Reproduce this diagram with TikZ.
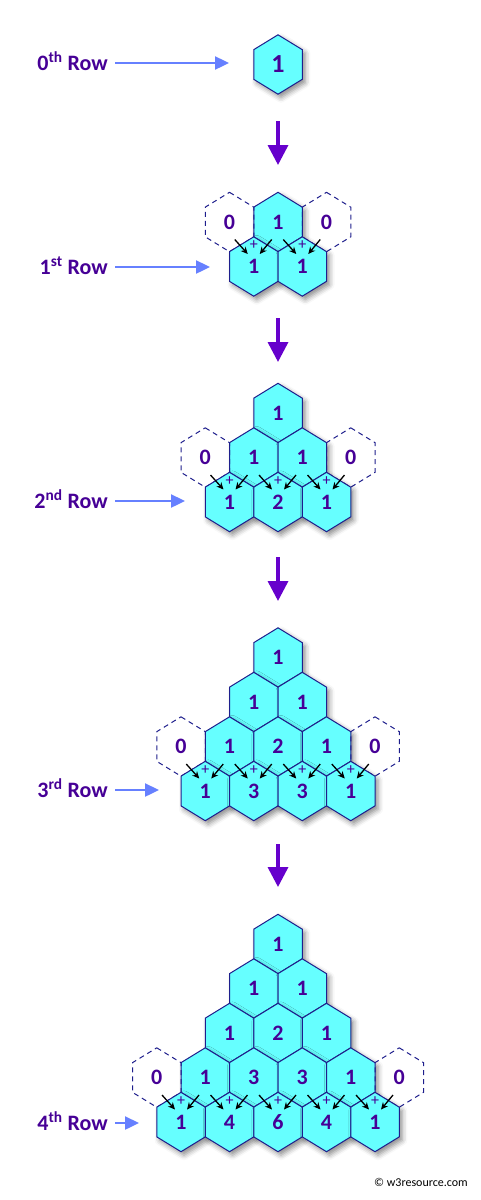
\documentclass[tikz,border=0pt]{standalone}
\usepackage{fontspec}
\setmainfont{Carlito}
\usetikzlibrary{arrows.meta}
\usetikzlibrary{shadows.blur}

\definecolor{cellfill}{RGB}{102,255,255}
\definecolor{cellline}{RGB}{30,30,140}
\definecolor{numtext}{RGB}{70,0,150}
\definecolor{rowarrow}{RGB}{102,128,255}
\definecolor{nextarrow}{RGB}{102,0,204}

% #1 style, #2 name, #3 x, #4 y, #5 value
\newcommand{\hexcell}[5]{%
  \path[#1] (#3,#4) +(0,-29.7) -- +(24.25,-14.85) -- +(24.25,14.85) -- +(0,29.7)
    -- +(-24.25,14.85) -- +(-24.25,-14.85) -- cycle;
  \node[num] (#2) at (#3,#4) {#5};
}

\begin{document}
\begin{tikzpicture}[
    x=1pt, y=-1pt,
    cell/.style={fill=cellfill, draw=cellline, line width=1pt,
      blur shadow={shadow xshift=3pt, shadow yshift=-3.5pt, shadow blur radius=5pt, shadow opacity=45}},
    zerocell/.style={draw=cellline, line width=1pt, dash pattern=on 5pt off 4pt},
    num/.style={inner sep=0pt, text=numtext, font=\bfseries\fontsize{22}{22}\selectfont},
    plus/.style={inner sep=0pt, text=numtext, font=\fontsize{16}{16}\selectfont},
    rowlabel/.style={inner sep=0pt, text=numtext, font=\bfseries\fontsize{22}{22}\selectfont},
    rowarr/.style={-{Triangle[length=14pt,width=13pt]}, line width=2.4pt, draw=rowarrow},
    nextarr/.style={-{Triangle[length=20pt,width=20pt]}, line width=3.5pt, draw=nextarrow},
    sumarr/.style={-{Stealth[length=7pt,width=6.5pt]}, line width=1.3pt, draw=black},
    credit/.style={inner sep=0pt, font=\fontsize{12}{12}\selectfont}
    ]
  \useasboundingbox (0,0) rectangle (480,1200);

  % the single cell of row 0
  \hexcell{cell}{c0-0-0}{278}{64.5}{\fontsize{26}{26}\selectfont 1}

  % rows 1 to 4, each built from the one above
  \foreach \blk/\ytop in {1/222, 2/413, 3/657.5, 4/944} {
    \foreach \i in {0,...,\blk} {
      \foreach \j in {0,...,\i} {
        \pgfmathtruncatemacro{\val}{round(factorial(\i)/(factorial(\j)*factorial(\i-\j)))}
        \pgfmathsetmacro{\cx}{278+(\j-\i/2)*48.5}
        \pgfmathsetmacro{\cy}{\ytop+\i*44.5}
        \hexcell{cell}{c\blk-\i-\j}{\cx}{\cy}{\val}
      }
      \ifnum\i=\numexpr\blk-1\relax
        \pgfmathsetmacro{\zl}{278-(1+(\blk-1)/2)*48.5}
        \pgfmathsetmacro{\zr}{278+(1+(\blk-1)/2)*48.5}
        \pgfmathsetmacro{\zy}{\ytop+(\blk-1)*44.5}
        \hexcell{zerocell}{z\blk-l}{\zl}{\zy}{0}
        \hexcell{zerocell}{z\blk-r}{\zr}{\zy}{0}
      \fi
    }
    \foreach \j in {0,...,\blk} {
      \draw[sumarr] ([shift={(-19,-27)}]c\blk-\blk-\j.center) -- ([shift={(-6,-12.5)}]c\blk-\blk-\j.center);
      \draw[sumarr] ([shift={(18,-27)}]c\blk-\blk-\j.center) -- ([shift={(6,-12.5)}]c\blk-\blk-\j.center);
      \node[plus] (p\blk-\j) at ([shift={(0,-21)}]c\blk-\blk-\j.center) {+};
    }
  }

  % row labels
  \foreach \k/\sup/\ya/\xb in {0/th/63/229, 1/st/267/210, 2/nd/501/185, 3/rd/790/159, 4/th/1123/139} {
    \node[rowlabel, anchor=base east] (r\k) at (108,\ya+7) {\k\textsuperscript{\sup} Row};
    \coordinate (s\k) at (115,\ya);
    \coordinate (t\k) at (\xb,\ya);
    \draw[rowarr] (s\k) -- (t\k);
  }

  % arrows between the steps
  \foreach \k/\ya/\yb in {1/121/165, 2/318/362, 3/557/601, 4/844/887} {
    \coordinate (da\k) at (278,\ya);
    \coordinate (db\k) at (278,\yb);
    \draw[nextarr] (da\k) -- (db\k);
  }

  \node[credit, anchor=east] (cr) at (468,1182) {\textcopyright\ w3resource.com};
\end{tikzpicture}
\end{document}
